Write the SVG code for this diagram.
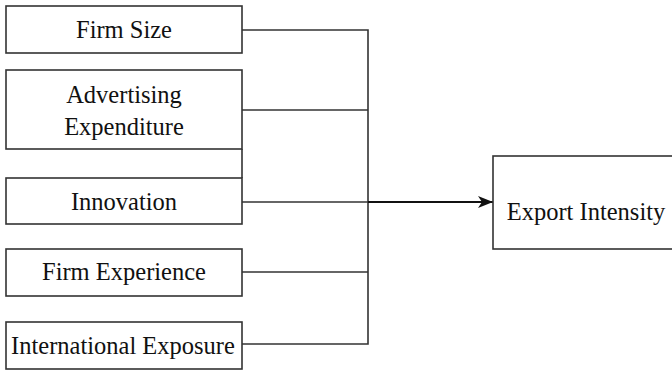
<svg xmlns="http://www.w3.org/2000/svg" width="672" height="370" viewBox="0 0 672 370">
<style>
.box{fill:#fff;stroke:#333;stroke-width:1.6}
.t{font-family:'Liberation Serif','DejaVu Serif','Times New Roman',serif;font-size:24.5px;fill:#111;text-anchor:middle}
.c{fill:none;stroke:#333;stroke-width:1.6}
</style>
<defs>
<marker id="ah" markerWidth="15" markerHeight="12" refX="15" refY="6" orient="auto" markerUnits="userSpaceOnUse" viewBox="0 0 15 12">
<path d="M0,0 L15,6 L0,12 L4,6 Z" fill="#111"/>
</marker>
</defs>
<rect width="672" height="370" fill="#fff"/>
<g id="connectors">
<path class="c" d="M242,30 H368 V344 H242"/>
<path class="c" d="M242,110 H368"/>
<path class="c" d="M242,272 H368"/>
<path class="c" d="M242,202 H368"/>
<path class="c" d="M242,149 V178"/>
<path fill="none" stroke="#111" stroke-width="2.2" d="M368,202 H493" marker-end="url(#ah)"/>
</g>
<g id="firm-size"><rect class="box" x="6" y="6" width="236" height="47"/><text class="t" x="124" y="38" font-family="Liberation Serif, serif">Firm Size</text></g>
<g id="advertising"><rect class="box" x="6" y="70" width="236" height="79"/><text class="t" x="124" y="103" font-family="Liberation Serif, serif">Advertising</text><text class="t" x="124" y="135" font-family="Liberation Serif, serif">Expenditure</text></g>
<g id="innovation"><rect class="box" x="6" y="178" width="236" height="46"/><text class="t" x="124" y="210" font-family="Liberation Serif, serif">Innovation</text></g>
<g id="firm-experience"><rect class="box" x="6" y="249" width="236" height="47"/><text class="t" x="124" y="280" font-family="Liberation Serif, serif">Firm Experience</text></g>
<g id="international-exposure"><rect class="box" x="6" y="322" width="236" height="47"/><text class="t" x="123" y="354" font-family="Liberation Serif, serif">International Exposure</text></g>
<g id="export-intensity"><rect class="box" x="493" y="156" width="190" height="93"/><text class="t" x="586" y="220" font-family="Liberation Serif, serif">Export Intensity</text></g>
</svg>
